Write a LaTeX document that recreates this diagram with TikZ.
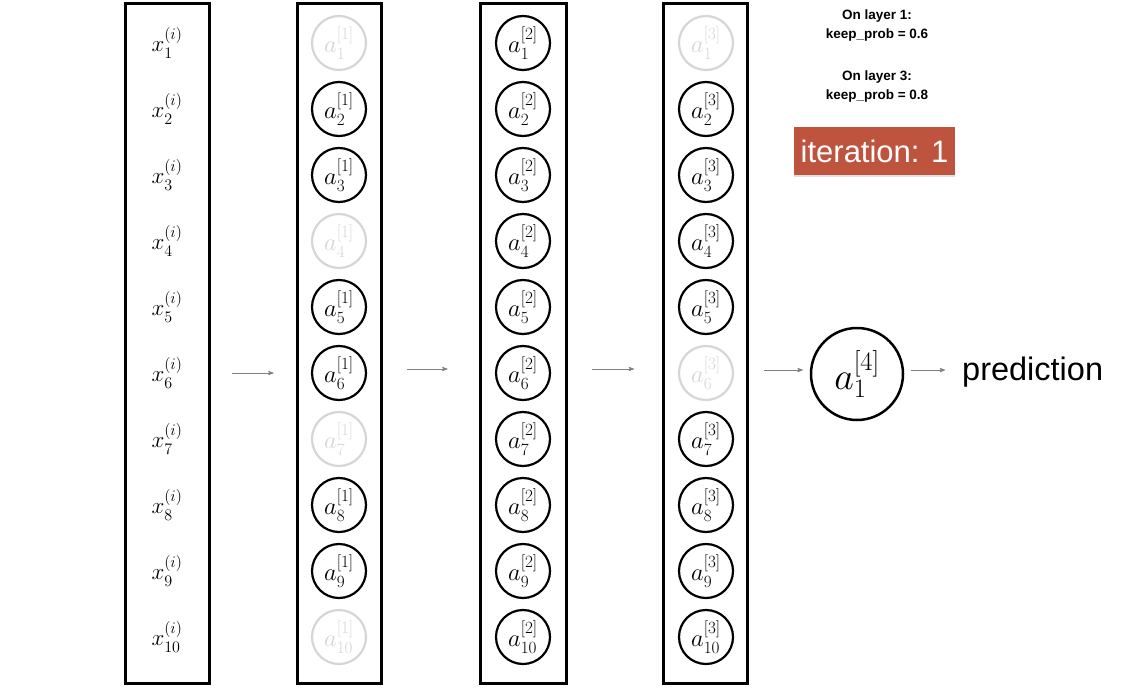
\documentclass[tikz,border=0pt]{standalone}
\usepackage{fix-cm}
\usepackage{amsmath}
\usepackage{fontspec}
\newfontfamily\helv{Liberation Sans}
\usetikzlibrary{positioning}
\usetikzlibrary{fit}
\usetikzlibrary{arrows}
\usetikzlibrary{shadows}
\definecolor{dropgray}{RGB}{214,214,214}
\definecolor{flowgray}{RGB}{128,128,128}
\definecolor{itred}{RGB}{191,84,62}
\tikzset{>=stealth'}
\tikzset{vert/.style={draw,circle, line width=2.2pt, minimum size=54pt, inner sep=0pt, fill=white, font=\fontsize{24.5}{27}\selectfont}}
\tikzset{off/.style={vert, draw=dropgray, text=dropgray}}
\tikzset{inp/.style={inner sep=0pt, font=\fontsize{23}{26}\selectfont}}
\tikzset{layer/.style={draw, line width=3pt, minimum width=84pt, minimum height=680pt, inner sep=0pt}}
\tikzset{flow/.style={->, draw=flowgray, line width=0.9pt}}
\tikzset{note/.style={align=center, font=\helv\bfseries\fontsize{13.5}{19}\selectfont}}

\begin{document}
\begin{tikzpicture}[x=1pt, y=-1pt]
\useasboundingbox (0,0) rectangle (1132,688);

\node[layer] (L0) at (167, 343) {};
\node[layer] (L1) at (339, 343) {};
\node[layer, minimum width=86pt] (L2) at (523, 343) {};
\node[layer] (L3) at (705.5, 343) {};

% input layer
\node[inp] (x1) at (167, 43) {$x_1^{(i)}$};
\node[inp] (x2) at (167, 109) {$x_2^{(i)}$};
\node[inp] (x3) at (167, 175) {$x_3^{(i)}$};
\node[inp] (x4) at (167, 241) {$x_4^{(i)}$};
\node[inp] (x5) at (167, 307) {$x_5^{(i)}$};
\node[inp] (x6) at (167, 373) {$x_6^{(i)}$};
\node[inp] (x7) at (167, 439) {$x_7^{(i)}$};
\node[inp] (x8) at (167, 505) {$x_8^{(i)}$};
\node[inp] (x9) at (167, 571) {$x_9^{(i)}$};
\node[inp] (x10) at (167, 637) {$x_{10}^{(i)}$};

% layer 1, keep_prob = 0.6
\node[off] (a11) at (339, 43) {$a_1^{[1]}$};
\node[vert] (a12) at (339, 109) {$a_2^{[1]}$};
\node[vert] (a13) at (339, 175) {$a_3^{[1]}$};
\node[off] (a14) at (339, 241) {$a_4^{[1]}$};
\node[vert] (a15) at (339, 307) {$a_5^{[1]}$};
\node[vert] (a16) at (339, 373) {$a_6^{[1]}$};
\node[off] (a17) at (339, 439) {$a_7^{[1]}$};
\node[vert] (a18) at (339, 505) {$a_8^{[1]}$};
\node[vert] (a19) at (339, 571) {$a_9^{[1]}$};
\node[off] (a110) at (339, 637) {$a_{10}^{[1]}$};

% layer 2
\node[vert] (a21) at (523, 43) {$a_1^{[2]}$};
\node[vert] (a22) at (523, 109) {$a_2^{[2]}$};
\node[vert] (a23) at (523, 175) {$a_3^{[2]}$};
\node[vert] (a24) at (523, 241) {$a_4^{[2]}$};
\node[vert] (a25) at (523, 307) {$a_5^{[2]}$};
\node[vert] (a26) at (523, 373) {$a_6^{[2]}$};
\node[vert] (a27) at (523, 439) {$a_7^{[2]}$};
\node[vert] (a28) at (523, 505) {$a_8^{[2]}$};
\node[vert] (a29) at (523, 571) {$a_9^{[2]}$};
\node[vert] (a210) at (523, 637) {$a_{10}^{[2]}$};

% layer 3, keep_prob = 0.8
\node[off] (a31) at (706, 43) {$a_1^{[3]}$};
\node[vert] (a32) at (706, 109) {$a_2^{[3]}$};
\node[vert] (a33) at (706, 175) {$a_3^{[3]}$};
\node[vert] (a34) at (706, 241) {$a_4^{[3]}$};
\node[vert] (a35) at (706, 307) {$a_5^{[3]}$};
\node[off] (a36) at (706, 373) {$a_6^{[3]}$};
\node[vert] (a37) at (706, 439) {$a_7^{[3]}$};
\node[vert] (a38) at (706, 505) {$a_8^{[3]}$};
\node[vert] (a39) at (706, 571) {$a_9^{[3]}$};
\node[vert] (a310) at (706, 637) {$a_{10}^{[3]}$};

\node[vert, minimum size=92pt, line width=2.5pt, font=\fontsize{38}{42}\selectfont] (out) at (857, 374) {$a_1^{[4]}$};
\node[anchor=west, inner sep=0pt, font=\helv\fontsize{32.5}{36}\selectfont] (pred) at (962, 372) {prediction};

\draw[flow, shorten <=21pt, shorten >=22pt] (L0.east |- x6) -- (L1.west |- x6);
\draw[flow, shorten <=24pt, shorten >=31pt] (L1.east |- 0,369) -- (L2.west |- 0,369);
\draw[flow, shorten <=24pt, shorten >=28pt] (L2.east |- 0,369) -- (L3.west |- 0,369);
\draw[flow, shorten <=15pt, shorten >=7pt] (L3.east |- 0,370) -- (out.west |- 0,370);
\draw[flow, shorten <=7pt, shorten >=17pt] (out.east |- 0,370) -- (pred.west |- 0,370);

\node[note] (n1) at (877, 26) {On layer 1:\\keep\_prob = 0.6};
\node[note] (n3) at (877, 87) {On layer 3:\\keep\_prob = 0.8};
\node[fill=itred, text=white, minimum width=161pt, minimum height=48pt, inner sep=0pt,
  drop shadow={opacity=0.25, shadow xshift=0pt, shadow yshift=-2pt},
  font=\helv\fontsize{31}{34}\selectfont] (iter) at (874.5, 151) {iteration: 1};
\end{tikzpicture}
\end{document}
